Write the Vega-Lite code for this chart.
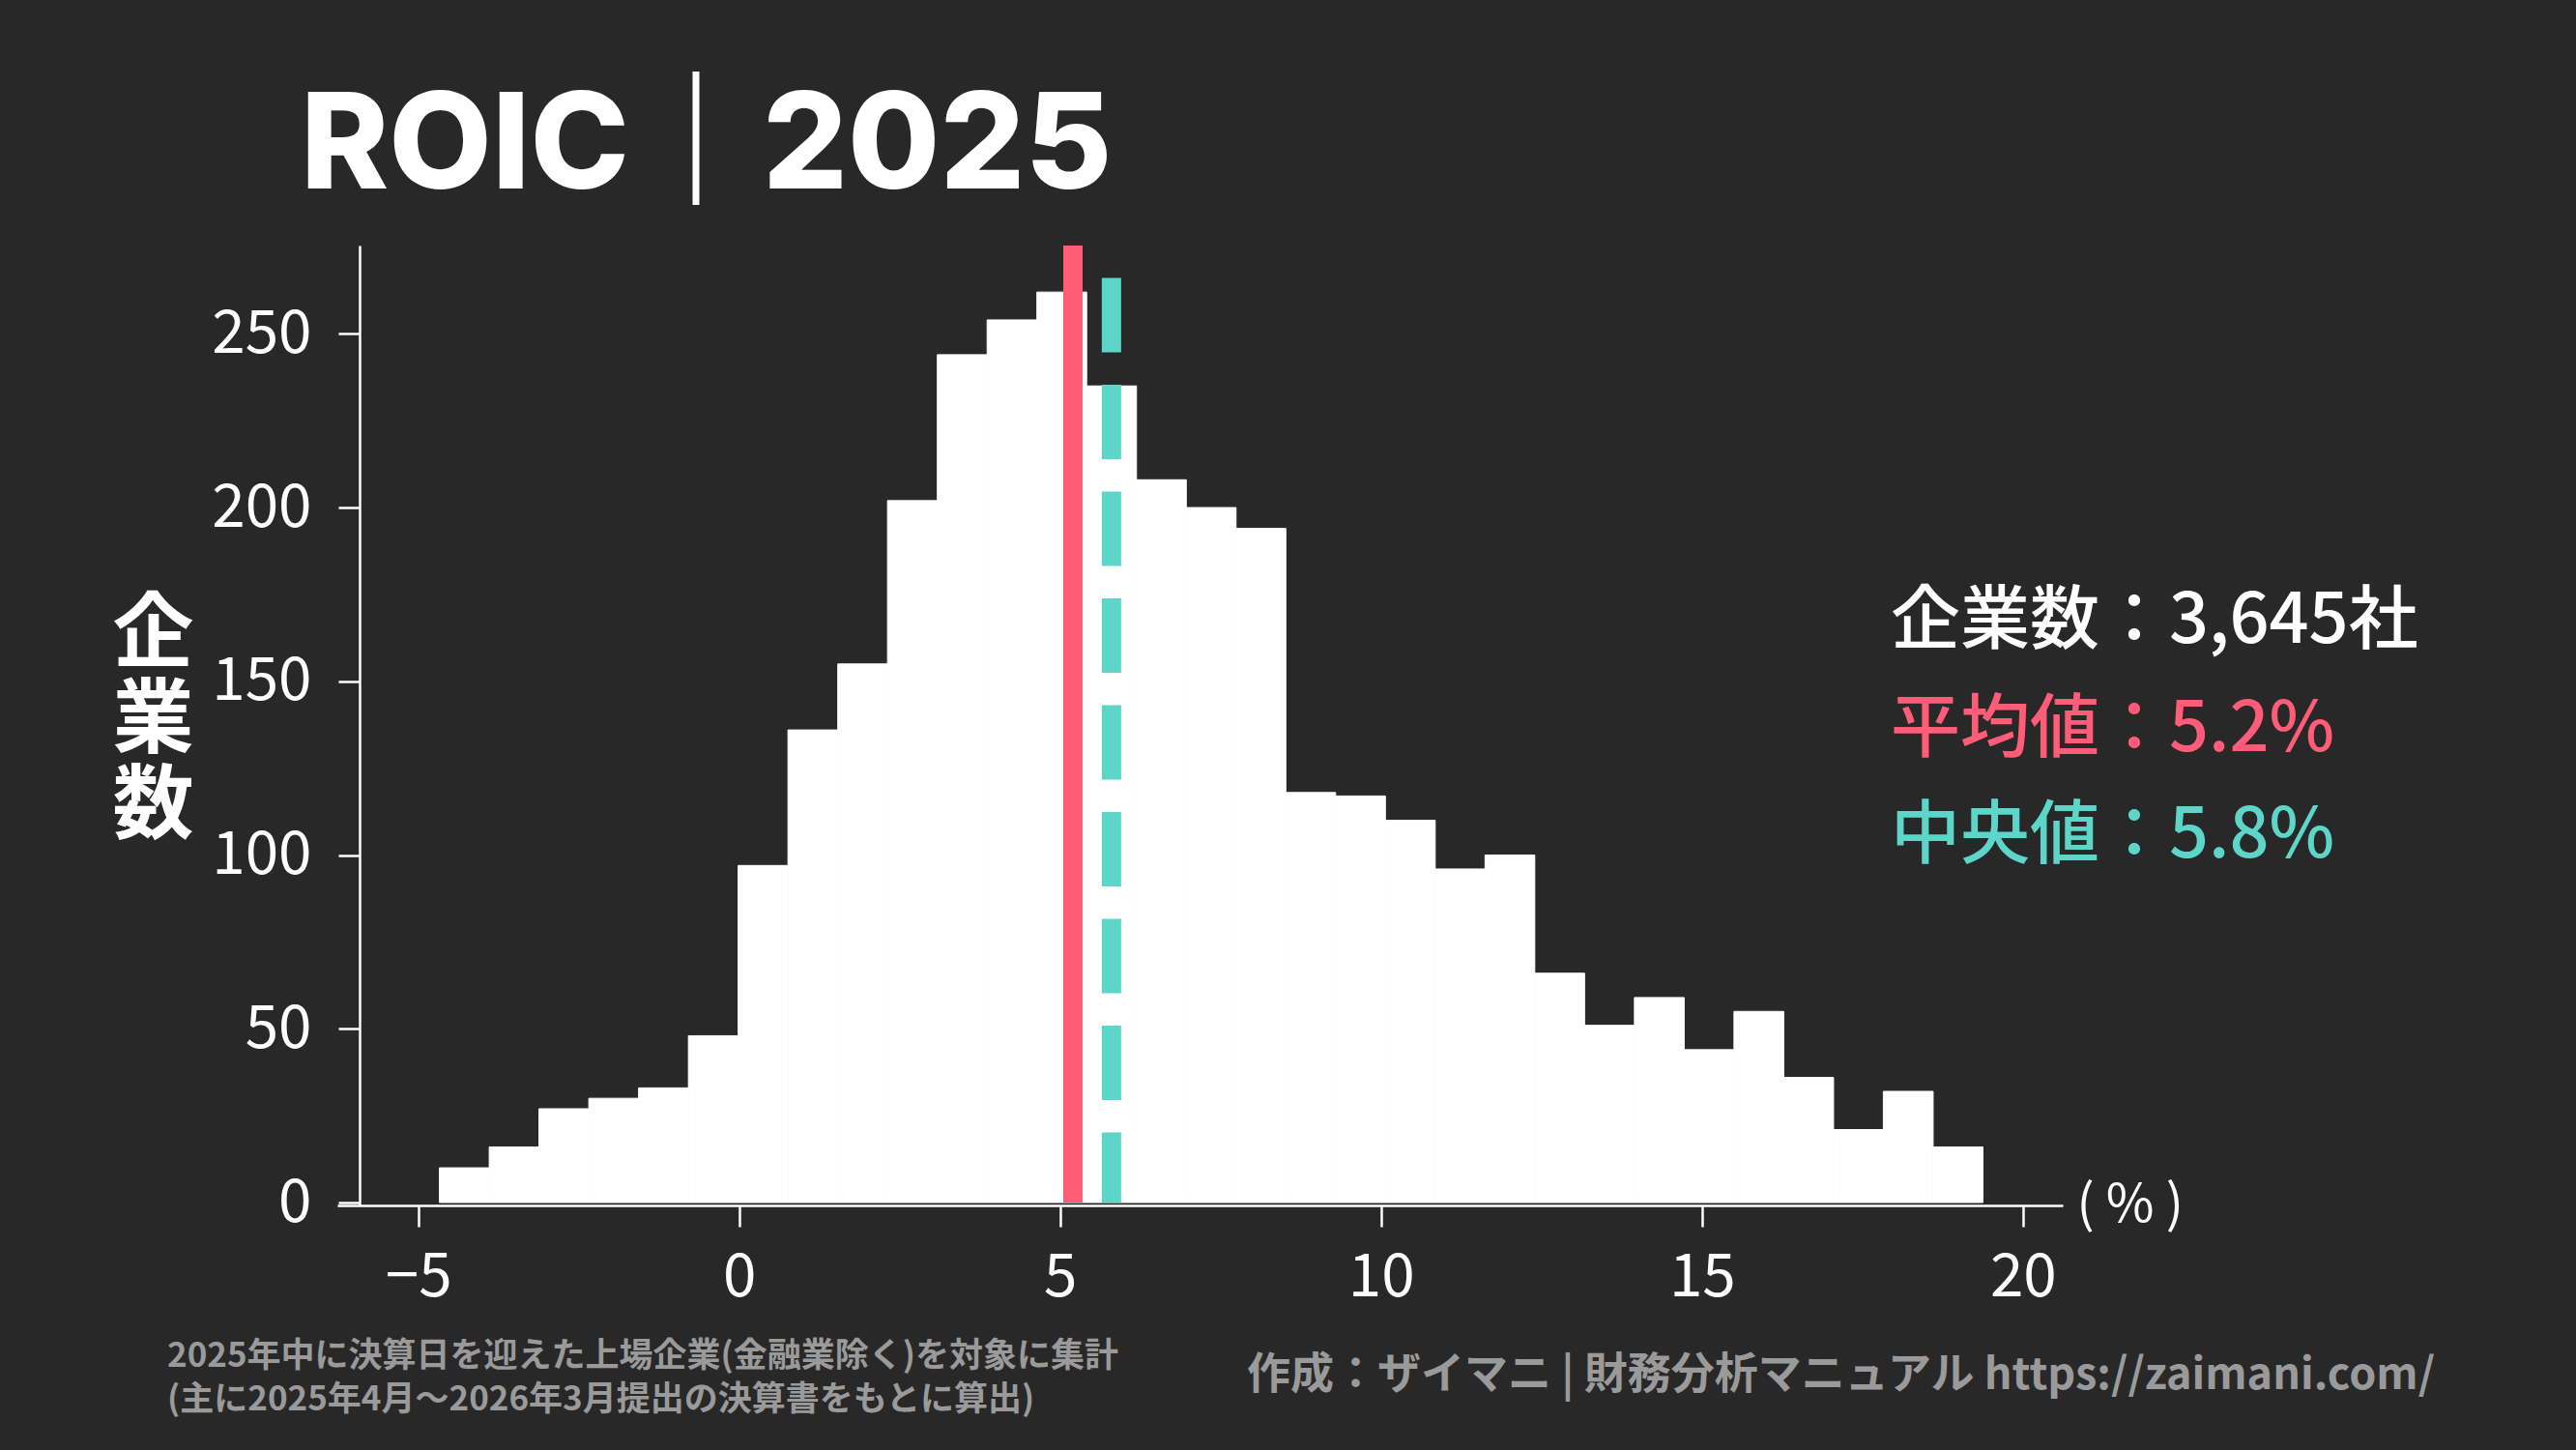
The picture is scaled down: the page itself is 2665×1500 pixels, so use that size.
{
  "$schema": "https://vega.github.io/schema/vega-lite/v6.json",
  "width": 1785,
  "height": 993,
  "autosize": {"type": "none"},
  "padding": {"left": 349, "top": 254, "right": 531, "bottom": 253},
  "background": "#282828",
  "title": {
    "text": "ROIC｜2025",
    "anchor": "start",
    "frame": "group",
    "dx": -38,
    "offset": -89,
    "baseline": "alphabetic",
    "font": "Inter, Noto Sans CJK JP",
    "fontSize": 138,
    "fontWeight": 800,
    "color": "#ffffff"
  },
  "config": {
    "view": {"stroke": null},
    "axis": {
      "grid": false,
      "domainColor": "#ffffff",
      "domainWidth": 2.5,
      "tickColor": "#ffffff",
      "tickWidth": 2.5,
      "tickSize": 22,
      "labelColor": "#ffffff",
      "labelFont": "Noto Sans CJK JP",
      "labelFontSize": 62,
      "labelOverlap": false,
      "labelFlush": false,
      "titleColor": "#ffffff",
      "titleFont": "Noto Sans CJK JP"
    }
  },
  "data": {
    "values": [
      {"bin_start": -4.670, "bin_end": -3.894, "count": 10},
      {"bin_start": -3.894, "bin_end": -3.119, "count": 16},
      {"bin_start": -3.119, "bin_end": -2.343, "count": 27},
      {"bin_start": -2.343, "bin_end": -1.567, "count": 30},
      {"bin_start": -1.567, "bin_end": -0.791, "count": 33},
      {"bin_start": -0.791, "bin_end": -0.016, "count": 48},
      {"bin_start": -0.016, "bin_end": 0.760, "count": 97},
      {"bin_start": 0.760, "bin_end": 1.536, "count": 136},
      {"bin_start": 1.536, "bin_end": 2.311, "count": 155},
      {"bin_start": 2.311, "bin_end": 3.087, "count": 202},
      {"bin_start": 3.087, "bin_end": 3.863, "count": 244},
      {"bin_start": 3.863, "bin_end": 4.638, "count": 254},
      {"bin_start": 4.638, "bin_end": 5.414, "count": 262},
      {"bin_start": 5.414, "bin_end": 6.190, "count": 235},
      {"bin_start": 6.190, "bin_end": 6.966, "count": 208},
      {"bin_start": 6.966, "bin_end": 7.741, "count": 200},
      {"bin_start": 7.741, "bin_end": 8.517, "count": 194},
      {"bin_start": 8.517, "bin_end": 9.293, "count": 118},
      {"bin_start": 9.293, "bin_end": 10.068, "count": 117},
      {"bin_start": 10.068, "bin_end": 10.844, "count": 110},
      {"bin_start": 10.844, "bin_end": 11.620, "count": 96},
      {"bin_start": 11.620, "bin_end": 12.395, "count": 100},
      {"bin_start": 12.395, "bin_end": 13.171, "count": 66},
      {"bin_start": 13.171, "bin_end": 13.947, "count": 51},
      {"bin_start": 13.947, "bin_end": 14.723, "count": 59},
      {"bin_start": 14.723, "bin_end": 15.498, "count": 44},
      {"bin_start": 15.498, "bin_end": 16.274, "count": 55},
      {"bin_start": 16.274, "bin_end": 17.050, "count": 36},
      {"bin_start": 17.050, "bin_end": 17.825, "count": 21},
      {"bin_start": 17.825, "bin_end": 18.601, "count": 32},
      {"bin_start": 18.601, "bin_end": 19.377, "count": 16}
    ]
  },
  "layer": [
    {
      "mark": {"type": "rect", "color": "#ffffff", "stroke": "#ffffff", "strokeWidth": 1},
      "encoding": {
        "x": {
          "field": "bin_start",
          "type": "quantitative",
          "scale": {"domain": [-6.26, 20.62], "nice": false, "zero": false},
          "axis": {
            "values": [-5, 0, 5, 10, 15, 20],
            "format": "d",
            "labelPadding": 22,
            "title": "( % )",
            "titleX": 1799,
            "titleY": 0,
            "titleAlign": "left",
            "titleBaseline": "middle",
            "titleAngle": 0,
            "titleFontSize": 54,
            "titleFontWeight": "normal"
          }
        },
        "x2": {"field": "bin_end"},
        "y": {
          "field": "count",
          "type": "quantitative",
          "scale": {"domain": [-0.83, 275.4], "nice": false, "zero": false},
          "axis": {
            "values": [0, 50, 100, 150, 200, 250],
            "format": "d",
            "offset": -23,
            "labelPadding": 28,
            "title": ["企", "業", "数"],
            "titleAngle": 0,
            "titleX": -214,
            "titleY": 403,
            "titleAlign": "center",
            "titleBaseline": "middle",
            "titleFontSize": 84,
            "titleFontWeight": "bold",
            "titleLineHeight": 89
          }
        },
        "y2": {"datum": 0}
      }
    },
    {
      "data": {"values": [{"stat": "平均値", "value": 5.2}]},
      "mark": {"type": "rule", "color": "#ff5c78", "strokeWidth": 20, "strokeCap": "butt"},
      "encoding": {
        "x": {"field": "value", "type": "quantitative"},
        "y": {"datum": 0},
        "y2": {"datum": 275.4}
      }
    },
    {
      "data": {"values": [{"stat": "中央値", "value": 5.8}]},
      "mark": {"type": "rule", "color": "#5dd5c9", "strokeWidth": 20, "strokeCap": "butt", "strokeDash": [77, 33.5], "strokeDashOffset": 4.5},
      "encoding": {
        "x": {"field": "value", "type": "quantitative"},
        "y": {"datum": 0},
        "y2": {"datum": 275.4}
      }
    },
    {
      "data": {"values": [{"t": "企業数：3,645社"}]},
      "mark": {"type": "text", "align": "left", "baseline": "alphabetic", "font": "Noto Sans CJK JP", "fontSize": 72, "fontWeight": 500, "color": "#ffffff"},
      "encoding": {"x": {"datum": 17.94}, "y": {"datum": 161.0}, "text": {"field": "t"}}
    },
    {
      "data": {"values": [{"t": "平均値：5.2%"}]},
      "mark": {"type": "text", "align": "left", "baseline": "alphabetic", "font": "Noto Sans CJK JP", "fontSize": 72, "fontWeight": 500, "color": "#ff5c78"},
      "encoding": {"x": {"datum": 17.94}, "y": {"datum": 129.9}, "text": {"field": "t"}}
    },
    {
      "data": {"values": [{"t": "中央値：5.8%"}]},
      "mark": {"type": "text", "align": "left", "baseline": "alphabetic", "font": "Noto Sans CJK JP", "fontSize": 72, "fontWeight": 500, "color": "#5dd5c9"},
      "encoding": {"x": {"datum": 17.94}, "y": {"datum": 99.3}, "text": {"field": "t"}}
    },
    {
      "data": {"values": [{"t": ["2025年中に決算日を迎えた上場企業(金融業除く)を対象に集計", "(主に2025年4月～2026年3月提出の決算書をもとに算出)"]}]},
      "mark": {"type": "text", "align": "left", "baseline": "alphabetic", "font": "Noto Sans CJK JP", "fontSize": 35, "fontWeight": "bold", "lineHeight": 45, "color": "#9a9a9a"},
      "encoding": {"x": {"datum": -8.91}, "y": {"datum": -47.3}, "text": {"field": "t"}}
    },
    {
      "data": {"values": [{"t": "作成：ザイマニ | 財務分析マニュアル https://zaimani.com/"}]},
      "mark": {"type": "text", "align": "right", "baseline": "alphabetic", "font": "Noto Sans CJK JP", "fontSize": 45, "fontWeight": "bold", "color": "#9a9a9a"},
      "encoding": {"x": {"datum": 26.42}, "y": {"datum": -53.7}, "text": {"field": "t"}}
    }
  ]
}
